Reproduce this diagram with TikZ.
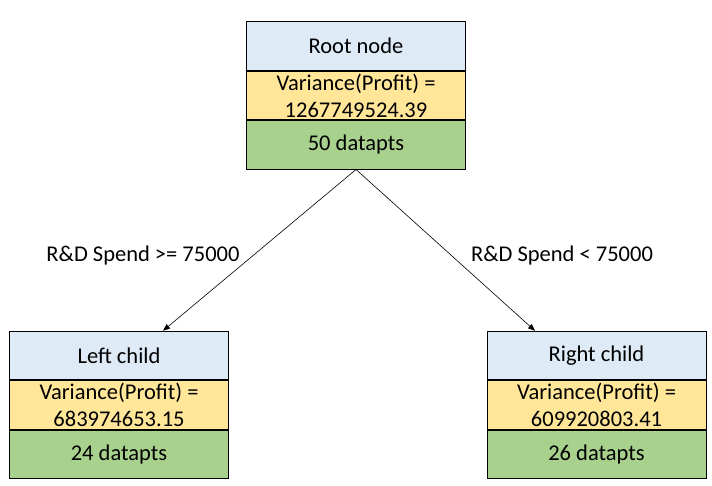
\documentclass[tikz,border=0pt]{standalone}
\usepackage{fontspec}
\setmainfont{Carlito}
\usetikzlibrary{arrows.meta,positioning}
\definecolor{headcol}{RGB}{222,235,247}
\definecolor{varcol}{RGB}{255,230,153}
\definecolor{ptscol}{RGB}{169,209,142}

\begin{document}
\begin{tikzpicture}[x=1pt, y=1pt,
   >={Triangle[length=7pt,width=5.5pt]}, node distance=0pt,
   cell/.style={draw, minimum width=219pt, minimum height=48.5pt, inner sep=0pt,
                align=center, font=\fontsize{22.5}{27}\selectfont, line width=0.9pt},
   split/.style={->, line width=0.6pt},
   cond/.style={font=\fontsize{22.5}{27}\selectfont},
]
\useasboundingbox (0,0) rectangle (712,486);
% root
\node[cell, fill=headcol] (roothd) at (356,440) {Root node};
\node[cell, fill=varcol, below=of roothd] (rootvar) {Variance(Profit) =\\1267749524.39};
\node[cell, fill=ptscol, below=of rootvar] (rootpts) {50 datapts};
% left child
\node[cell, fill=headcol] (lefthd) at (119,130.5) {Left child};
\node[cell, fill=varcol, below=of lefthd] (leftvar) {Variance(Profit) =\\683974653.15};
\node[cell, fill=ptscol, below=of leftvar] (leftpts) {24 datapts};
% right child
\node[cell, fill=headcol] (righthd) at (596.5,130.5) {Right child};
\node[cell, fill=varcol, below=of righthd] (rightvar) {Variance(Profit) =\\609920803.41};
\node[cell, fill=ptscol, below=of rightvar] (rightpts) {26 datapts};
% conditions
\node[cond] (leftcond) at (143,230) {R\&D Spend >= 75000};
\node[cond] (rightcond) at (562,230) {R\&D Spend < 75000};
% edges
\draw[split] (rootpts.south) -- ([xshift=44pt]lefthd.north);
\draw[split] (rootpts.south) -- ([xshift=-61.5pt]righthd.north);
\end{tikzpicture}
\end{document}
